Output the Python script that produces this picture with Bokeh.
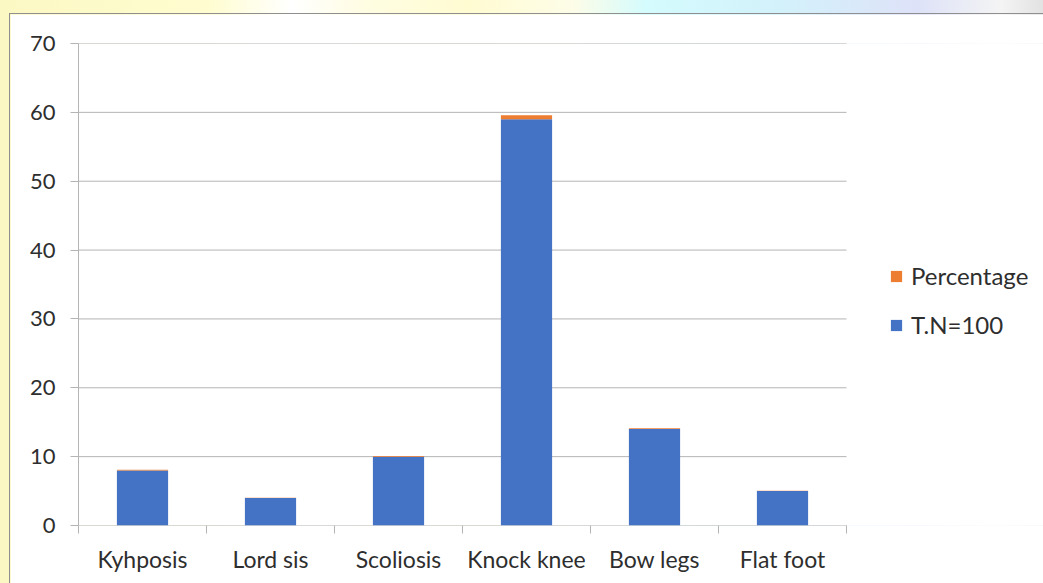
from bokeh.plotting import figure
from bokeh.models import Range1d, FixedTicker, Legend, LegendItem, Column, ColumnDataSource
from bokeh.embed import file_html
from bokeh.resources import INLINE

categories = ["Kyhposis", "Lord sis", "Scoliosis", "Knock knee", "Bow legs", "Flat foot"]
tn_values = [8, 4, 10, 59, 14, 5]
pct_values = [0.08, 0.04, 0.10, 0.59, 0.14, 0.05]
y_ticks = [0, 10, 20, 30, 40, 50, 60, 70]
series_names = ["T.N=100", "Percentage"]

BLUE = "#4472C4"
ORANGE = "#ED7D31"
GRID = "#b4b4b4"
TEXT = "#2e2e2e"
FONT = "Lato"

n = len(categories)
xs = list(range(n))
src = ColumnDataSource(dict(x=xs, tn=tn_values, pct=pct_values))

# the plotting frame is widened to host the legend; the category area spans -0.5 .. n-0.5
FRAME_W = 966
UNIT_PX = 128
p = figure(width=1034, height=570,
           x_range=Range1d(-0.5, -0.5 + FRAME_W / UNIT_PX),
           y_range=Range1d(0, 70),
           output_backend="svg", toolbar_location=None,
           min_border_left=68, min_border_top=29,
           min_border_right=0, min_border_bottom=59)
p.margin = (13, 0, 0, 9)
p.styles = {"border-left": "1px solid #8f8f8f", "border-top": "1px solid #8f8f8f"}
p.background_fill_color = "white"
p.border_fill_color = "white"
p.outline_line_color = None

# horizontal gridlines limited to the category area
p.segment(x0=[-0.5] * len(y_ticks), x1=[n - 0.5] * len(y_ticks), y0=y_ticks, y1=y_ticks,
          line_color=GRID, line_width=1)

renderers = p.vbar_stack(["tn", "pct"], x="x", width=0.4, color=[BLUE, ORANGE],
                         line_color=None, source=src)

# axes
p.xaxis.ticker = FixedTicker(ticks=xs, minor_ticks=[i - 0.5 for i in range(n + 1)])
p.xaxis.major_label_overrides = {i: c for i, c in zip(xs, categories)}
p.xaxis.major_tick_line_color = None
p.xaxis.minor_tick_line_color = GRID
p.xaxis.minor_tick_out = 8
p.xaxis.minor_tick_in = 0
p.xaxis.axis_line_color = None
p.xaxis.major_label_standoff = 11
p.xaxis.major_label_text_font = FONT
p.xaxis.major_label_text_font_size = "23px"
p.xaxis.major_label_text_color = TEXT

p.yaxis.ticker = FixedTicker(ticks=y_ticks)
p.yaxis.minor_tick_line_color = None
p.yaxis.major_tick_line_color = GRID
p.yaxis.major_tick_out = 8
p.yaxis.major_tick_in = 0
p.yaxis.axis_line_color = GRID
p.yaxis.major_label_standoff = 15
p.yaxis.major_label_text_font = FONT
p.yaxis.major_label_text_font_size = "22px"
p.yaxis.major_label_text_color = TEXT

p.xgrid.grid_line_color = None
p.ygrid.grid_line_color = None

legend = Legend(items=[LegendItem(label=series_names[1], renderers=[renderers[1]]),
                       LegendItem(label=series_names[0], renderers=[renderers[0]])],
                location=(811, 186))
legend.border_line_color = None
legend.background_fill_alpha = 0
legend.padding = 0
legend.margin = 0
legend.spacing = 20
legend.glyph_width = 14
legend.glyph_height = 14
legend.label_standoff = 8
legend.label_height = 24
legend.label_text_font = FONT
legend.label_text_font_size = "24px"
legend.label_text_color = TEXT
p.add_layout(legend)

layout = Column(p, width=1043, height=583,
                styles={"background": "linear-gradient(90deg, #fcf8c4 0%, #fffdd0 20%, #ffffff 28%, #fffde2 35%, #fffcd2 45%, #fdfde8 55%, #d4fbfd 62%, #d3f1fb 75%, #dee2f8 88%, #f4f4f4 96%, #e2e2e2 100%)"})

open("out.html", "w").write(file_html(layout, INLINE))
